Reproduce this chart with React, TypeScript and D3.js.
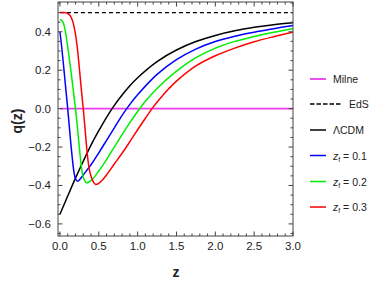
import React from 'react';
import * as d3 from 'd3';

// q(z) curves
const zLCDM = [0, 0.1, 0.2, 0.3, 0.4, 0.5, 0.6, 0.7, 0.8, 0.9, 1.0, 1.25, 1.5, 1.75, 2.0, 2.25, 2.5, 2.75, 3.0];
const qLCDM = [-0.55, -0.455, -0.362, -0.274, -0.19, -0.115, -0.045, 0.017, 0.071, 0.119, 0.161, 0.245, 0.305, 0.349, 0.381, 0.405, 0.423, 0.437, 0.447];

const zF1 = [0, 0.02, 0.04, 0.06, 0.08, 0.1, 0.12, 0.14, 0.16, 0.18, 0.2, 0.23, 0.26, 0.3, 0.4, 0.5, 0.6, 0.7, 0.8, 0.9, 1.0, 1.25, 1.5, 1.75, 2.0, 2.25, 2.5, 2.75, 3.0];
const qF1 = [0.40, 0.33, 0.252, 0.167, 0.083, 0.0, -0.09, -0.18, -0.262, -0.328, -0.364, -0.378, -0.366, -0.345, -0.292, -0.23, -0.165, -0.1, -0.035, 0.022, 0.072, 0.178, 0.255, 0.31, 0.349, 0.377, 0.398, 0.416, 0.433];

const zF2 = [0, 0.02, 0.04, 0.06, 0.08, 0.1, 0.12, 0.14, 0.16, 0.18, 0.2, 0.22, 0.24, 0.26, 0.28, 0.3, 0.34, 0.37, 0.42, 0.5, 0.6, 0.7, 0.8, 0.9, 1.0, 1.1, 1.25, 1.5, 1.75, 2.0, 2.25, 2.5, 2.75, 3.0];
const qF2 = [0.463, 0.461, 0.449, 0.422, 0.378, 0.322, 0.262, 0.2, 0.135, 0.068, 0.0, -0.075, -0.16, -0.245, -0.315, -0.357, -0.386, -0.382, -0.366, -0.325, -0.265, -0.2, -0.135, -0.073, -0.015, 0.038, 0.105, 0.195, 0.265, 0.315, 0.35, 0.375, 0.397, 0.416];

const zF3 = [0, 0.05, 0.1, 0.13, 0.16, 0.19, 0.22, 0.25, 0.275, 0.3, 0.32, 0.34, 0.36, 0.38, 0.4, 0.43, 0.46, 0.5, 0.55, 0.6, 0.7, 0.8, 0.9, 1.0, 1.1, 1.2, 1.3, 1.4, 1.5, 1.75, 2.0, 2.25, 2.5, 2.75, 3.0];
const qF3 = [0.5, 0.5, 0.495, 0.485, 0.46, 0.41, 0.33, 0.21, 0.1, 0.0, -0.09, -0.185, -0.265, -0.32, -0.352, -0.382, -0.395, -0.389, -0.37, -0.345, -0.288, -0.232, -0.172, -0.11, -0.05, 0.008, 0.058, 0.103, 0.143, 0.222, 0.275, 0.315, 0.348, 0.374, 0.397];

const zMilne = [0, 3];
const qMilne = [0, 0];
const zEdS = [0, 3];
const qEdS = [0.5, 0.5];

const xTicks = [0, 0.5, 1.0, 1.5, 2.0, 2.5, 3.0];
const yTicks = [-0.6, -0.4, -0.2, 0, 0.2, 0.4];

const legendLabels = ['Milne', 'EdS', 'ΛCDM', '0.1', '0.2', '0.3'];

const W = 374;
const H = 284;
const left = 58, right = 293, top = 2, bottom = 236;

const App = () => {
  const x = d3.scaleLinear().domain([-0.025, 3]).range([left, right]);
  const y = d3.scaleLinear().domain([-0.663, 0.555]).range([bottom, top]);
  const fmt = d3.format('.1f');

  const line = (zs: number[], qs: number[]) =>
    d3.line<number>()
      .x((_, i) => x(zs[i]))
      .y((d) => y(d))
      .curve(d3.curveCatmullRom.alpha(0.5))(qs) || '';

  const series = [
    { name: 'Milne', z: zMilne, q: qMilne, color: '#ee3cee', width: 1.8, dash: undefined },
    { name: 'EdS', z: zEdS, q: qEdS, color: '#000', width: 1.3, dash: '4,3' },
    { name: 'LCDM', z: zLCDM, q: qLCDM, color: '#000', width: 1.5, dash: undefined },
    { name: 'f1', z: zF1, q: qF1, color: '#0000ff', width: 1.5, dash: undefined },
    { name: 'f2', z: zF2, q: qF2, color: '#00ee00', width: 1.5, dash: undefined },
    { name: 'f3', z: zF3, q: qF3, color: '#ff0000', width: 1.5, dash: undefined },
  ];

  const xMinor = d3.range(0, 31).map((i) => i / 10).filter((v) => Math.abs(v * 2 - Math.round(v * 2)) > 1e-6);
  const yMinor = d3.range(-13, 12).map((i) => i * 0.05).filter((v) => Math.abs(v * 5 - Math.round(v * 5)) > 1e-6);

  const tickColor = '#444';
  const legendY = [79, 104, 130, 155.5, 181.5, 207];

  return (
    <svg width={W} height={H} style={{ position: 'absolute', left: 0, top: 0 }}>
      <rect width={W} height={H} fill="#fff" />
      <defs>
        <clipPath id="plot">
          <rect x={left} y={top} width={right - left} height={bottom - top} />
        </clipPath>
      </defs>
      <g clipPath="url(#plot)">
        {series.map((s) => (
          <path key={s.name} d={line(s.z, s.q)} fill="none" stroke={s.color}
            strokeWidth={s.width} strokeDasharray={s.dash} strokeLinejoin="round" />
        ))}
      </g>

      {/* frame */}
      <rect x={left} y={top} width={right - left} height={bottom - top} fill="none" stroke={tickColor} strokeWidth={1} />

      {/* x ticks */}
      {xTicks.map((t) => (
        <g key={'x' + t}>
          <line x1={x(t)} x2={x(t)} y1={bottom} y2={bottom - 4.5} stroke={tickColor} />
          <line x1={x(t)} x2={x(t)} y1={top} y2={top + 4.5} stroke={tickColor} />
          <text x={x(t)} y={250} textAnchor="middle" fontSize={11.5} fill="#222"
            fontFamily="'Liberation Sans', Arial, sans-serif">{fmt(t)}</text>
        </g>
      ))}
      {xMinor.map((t) => (
        <g key={'xm' + t}>
          <line x1={x(t)} x2={x(t)} y1={bottom} y2={bottom - 2.5} stroke={tickColor} />
          <line x1={x(t)} x2={x(t)} y1={top} y2={top + 2.5} stroke={tickColor} />
        </g>
      ))}

      {/* y ticks */}
      {yTicks.map((t) => (
        <g key={'y' + t}>
          <line x1={left} x2={left + 4.5} y1={y(t)} y2={y(t)} stroke={tickColor} />
          <line x1={right} x2={right - 4.5} y1={y(t)} y2={y(t)} stroke={tickColor} />
          <text x={51} y={y(t) + 4} textAnchor="end" fontSize={11.5} fill="#222"
            fontFamily="'Liberation Sans', Arial, sans-serif">{fmt(t)}</text>
        </g>
      ))}
      {yMinor.map((t) => (
        <g key={'ym' + t}>
          <line x1={left} x2={left + 2.5} y1={y(t)} y2={y(t)} stroke={tickColor} />
          <line x1={right} x2={right - 2.5} y1={y(t)} y2={y(t)} stroke={tickColor} />
        </g>
      ))}

      {/* axis labels */}
      <text x={176} y={277} textAnchor="middle" fontSize={14} fontWeight="bold" fill="#222"
        fontFamily="'Liberation Sans', Arial, sans-serif">z</text>
      <text transform="translate(22,121) rotate(-90)" textAnchor="middle" fontSize={14} fontWeight="bold" fill="#222"
        fontFamily="'Liberation Sans', Arial, sans-serif">q(z)</text>

      {/* legend */}
      <g fontFamily="'Liberation Sans', Arial, sans-serif" fontSize={10.5} fill="#222">
        {series.map((s, i) => (
          <g key={'lg' + s.name}>
            <line x1={310} x2={i === 1 ? 341.5 : 326} y1={legendY[i]} y2={legendY[i]}
              stroke={s.color} strokeWidth={s.width} strokeDasharray={s.dash ? '4.5,2' : undefined} />
            {i < 3 ? (
              <text x={i === 1 ? 349 : 333} y={legendY[i] + 4}>{legendLabels[i]}</text>
            ) : (
              <text x={333} y={legendY[i] + 4}>
                <tspan fontStyle="italic">z</tspan>
                <tspan fontSize={7} dy={2}>f</tspan>
                <tspan dy={-2}>{' = ' + legendLabels[i]}</tspan>
              </text>
            )}
          </g>
        ))}
      </g>
    </svg>
  );
};

export default App;
